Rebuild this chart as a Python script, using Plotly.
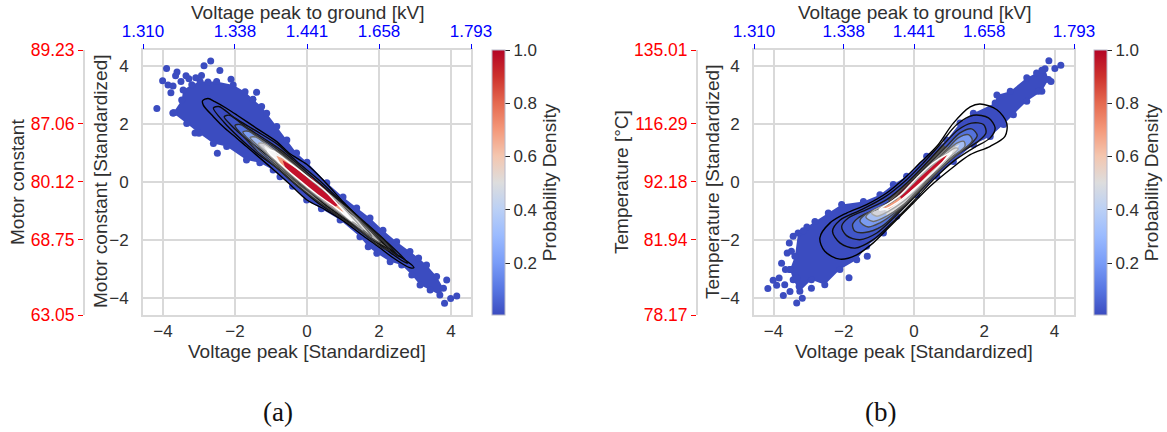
import plotly.graph_objects as go

W, H = 1167, 432
FONT = "Liberation Sans"
TXT = "#303030"
GRID = "#d9d9d9"
BLUE0 = "#3b4cc0"

COOLWARM = [[0, "#3b4cc0"], [0.1, "#5877e3"], [0.2, "#7a9df8"], [0.3, "#9bbbff"], [0.4, "#bbd0f5"],
            [0.5, "#dddddd"], [0.6, "#f4c6af"], [0.7, "#f4987a"], [0.8, "#e56950"], [0.9, "#cd312e"], [1, "#b40426"]]
COLORBAR_TICKS = [0.2, 0.4, 0.6, 0.8, 1.0]
COLORBAR_LABELS = ["0.2", "0.4", "0.6", "0.8", "1.0"]
MAIN_TICKS = [-4, -2, 0, 2, 4]
MAIN_LABELS = ["\u22124", "\u22122", "0", "2", "4"]
TOP_POS = [-4.555, -2, 0, 2, 4.555]
TOP_LABELS = ["1.310", "1.338", "1.441", "1.658", "1.793"]
RED_POS = [-4.586, -2, 0, 2, 4.55]
A_RED_LABELS = ["63.05", "68.75", "80.12", "87.06", "89.23"]
B_RED_LABELS = ["78.17", "81.94", "92.18", "116.29", "135.01"]

# ---- panel (a) ----
A_BLOB_X = [-3.72,-3.48,-3.44,-3.2,-2.97,-2.75,-2.51,-2.05,-1.72,-1.5,-1.26,-1.12,-0.84,-0.56,-0.29,0.0,0.55,1.0,1.38,1.75,2.11,2.49,2.86,3.1,3.32,3.6,3.79,3.69,3.42,3.14,2.91,2.63,2.31,1.94,1.7,1.47,0.92,0.4,-0.01,-0.4,-0.75,-0.94,-1.31,-1.68,-2.23,-2.6,-3.0,-3.34]
A_BLOB_Y = [2.38,2.83,3.17,3.35,3.46,3.45,3.46,3.34,3.11,2.85,2.6,2.37,1.91,1.45,1.0,0.68,-0.03,-0.52,-0.9,-1.24,-1.66,-2.06,-2.4,-2.62,-2.86,-3.26,-3.66,-3.9,-3.72,-3.55,-3.21,-2.86,-2.75,-2.46,-2.23,-1.89,-1.31,-0.92,-0.62,-0.15,0.18,0.41,0.66,0.76,1.22,1.33,1.68,2.02]
A_OUT_X = [-2.675,-2.86,-2.42,-3.90,-3.61,-4.01,-3.65,-3.86,-3.72,-3.5,-3.36,-3.28,-3.09,-2.93,-2.11,-1.40,-3.78,-4.17,-3.69,-2.49,-3.11,3.88,4.16,3.99,3.82]
A_OUT_Y = [4.17,4.01,3.84,3.91,3.79,3.49,3.66,3.34,3.31,3.46,3.66,3.56,3.59,3.67,3.54,3.09,3.08,2.53,2.39,0.99,1.69,-3.38,-3.93,-4.02,-4.18]
A_C1_X = [-2.9,-2.75,-2.56,-2.25,-1.95,-1.4,-0.84,-0.5,0,0.5,1,1.5,2,2.5,2.85,2.97,2.85,2.4,2,1.5,1,0.5,0,-0.5,-1,-1.68,-1.95,-2.28,-2.6,-2.88]
A_C1_Y = [2.8,2.88,2.77,2.55,2.31,1.85,1.39,1.0,0.6,0.0,-0.68,-1.3,-1.98,-2.5,-2.8,-2.95,-2.95,-2.62,-2.25,-1.8,-1.33,-0.95,-0.62,-0.05,0.5,1.22,1.51,1.85,2.25,2.65]
A_C2_X = [-2.6,-2.45,-2.0,-1.4,-0.8,-0.3,0.3,1,1.6,2.2,2.6,2.8,2.65,2.2,1.6,1,0.3,-0.3,-0.8,-1.4,-1.9,-2.3]
A_C2_Y = [2.55,2.6,2.2,1.75,1.28,0.72,0.1,-0.72,-1.38,-2.05,-2.52,-2.8,-2.72,-2.33,-1.78,-1.27,-0.72,-0.1,0.45,1.0,1.55,2.05]
A_C3_X = [-2.3,-2.15,-1.7,-1.2,-0.7,-0.2,0.4,1,1.6,2.1,2.55,2.3,1.8,1.2,0.5,-0.2,-0.7,-1.2,-1.7,-2.1]
A_C3_Y = [2.25,2.3,1.9,1.5,1.08,0.55,-0.1,-0.77,-1.42,-1.95,-2.58,-2.35,-1.97,-1.4,-0.78,-0.05,0.5,1.02,1.5,1.95]
A_C4_X = [-2.0,-1.85,-1.4,-0.9,-0.4,0.2,0.8,1.4,1.9,2.3,2.0,1.5,0.9,0.2,-0.4,-0.9,-1.4,-1.75]
A_C4_Y = [1.95,1.98,1.6,1.2,0.68,0.02,-0.62,-1.27,-1.8,-2.35,-2.2,-1.72,-1.2,-0.58,0,0.55,1.08,1.55]
A_C5_X = [-1.78,-1.62,-1.2,-0.7,-0.2,0.4,1,1.5,2.05,1.75,1.2,0.5,-0.2,-0.7,-1.2,-1.55]
A_C5_Y = [1.72,1.75,1.38,0.95,0.42,-0.2,-0.82,-1.35,-2.1,-1.9,-1.35,-0.72,-0.1,0.42,0.95,1.38]
A_C6_X = [-1.58,-1.42,-1,-0.5,0,0.6,1.2,1.8,1.4,0.8,0.2,-0.4,-0.9,-1.3]
A_C6_Y = [1.53,1.55,1.18,0.72,0.2,-0.42,-1.02,-1.88,-1.5,-0.98,-0.42,0.18,0.72,1.18]
A_C7_X = [-1.35,-1.2,-0.8,-0.3,0.2,0.8,1.55,1.1,0.5,-0.1,-0.6,-1.05]
A_C7_Y = [1.32,1.33,0.97,0.5,-0.02,-0.62,-1.65,-1.22,-0.68,-0.08,0.45,0.95]
A_C8_X = [-1.1,-0.95,-0.55,0,0.5,1.25,0.9,0.3,-0.3,-0.8]
A_C8_Y = [1.08,1.08,0.72,0.2,-0.3,-1.35,-0.98,-0.45,0.15,0.7]
A_NECK1_X = [-0.75,-0.2,0.4,1,1.6,2.1,2.55,2.3,1.8,1.2,0.5,-0.2,-0.9]
A_NECK1_Y = [1.12,0.55,-0.1,-0.77,-1.42,-1.95,-2.58,-2.35,-1.97,-1.4,-0.78,-0.05,0.7]
A_NECK2_X = [-0.85,-0.4,0.2,0.8,1.4,1.9,2.3,2.0,1.5,0.9,0.2,-0.4,-0.95]
A_NECK2_Y = [1.13,0.68,0.02,-0.62,-1.27,-1.8,-2.35,-2.2,-1.72,-1.2,-0.58,0,0.62]
A_NECK3_X = [-0.95,-0.7,-0.2,0.4,1,1.5,2.05,1.75,1.2,0.5,-0.2,-0.7,-1.05]
A_NECK3_Y = [1.13,0.95,0.42,-0.2,-0.82,-1.35,-2.1,-1.9,-1.35,-0.72,-0.1,0.42,0.82]
A_NECK4_X = [-1.15,-1,-0.5,0,0.6,1.2,1.8,1.4,0.8,0.2,-0.4,-0.9,-1.2]
A_NECK4_Y = [1.28,1.18,0.72,0.2,-0.42,-1.02,-1.88,-1.5,-0.98,-0.42,0.18,0.72,1.05]
A_NECK5_X = [-1.2,-0.8,-0.3,0.2,0.8,1.55,1.1,0.5,-0.1,-0.6,-1.05]
A_NECK5_Y = [1.25,0.97,0.5,-0.02,-0.62,-1.65,-1.22,-0.68,-0.08,0.45,0.95]
A_SALMON_X = [-0.85,-0.5,0,0.5,1.05,0.6,0.1,-0.4,-0.7]
A_SALMON_Y = [0.9,0.72,0.25,-0.25,-1.05,-0.82,-0.4,0.15,0.55]
A_RED_X = [-0.68,-0.39,-0.1,0.17,0.55,0.92,0.72,0.4,0.08,-0.2,-0.39,-0.61]
A_RED_Y = [0.75,0.55,0.33,0.12,-0.3,-0.75,-0.9,-0.58,-0.25,-0.02,0.15,0.52]

# ---- panel (b) ----
B_BLOB_X = [-3.53,-3.39,-3.3,-3.05,-2.82,-2.44,-2.06,-1.44,-0.97,-0.59,-0.21,0.36,0.93,1.31,1.69,2.31,2.36,2.74,3.21,3.49,3.73,3.83,3.64,3.21,2.83,2.55,2.17,1.69,1.12,0.65,0.08,-0.49,-0.87,-1.35,-1.63,-2.11,-2.54,-2.92,-3.25,-3.44]
B_BLOB_Y = [-3.02,-2.56,-1.76,-1.55,-1.36,-1.07,-0.78,-0.67,-0.44,-0.09,0.2,0.89,1.45,2.03,2.37,2.72,3.0,3.13,3.59,3.76,3.9,3.53,3.13,2.78,2.32,1.98,1.57,1.29,0.71,0.2,-0.44,-1.18,-1.76,-2.22,-2.68,-3.02,-3.54,-3.37,-3.77,-3.37]
B_OUT_X = [-4.16,-3.72,-3.34,-3.18,-3.53,-4.01,-3.84,-3.77,-3.66,-3.91,-3.68,-1.85,-1.33,-3.55,-3.44,-3.15,-3.61,-3.49,-3.27,-2.92,-3.34,3.84,4.18,4.01,3.9,3.73,3.64,3.54]
B_OUT_Y = [-3.67,-3.91,-4.17,-4.01,-3.78,-3.39,-3.31,-2.8,-3.02,-3.56,-3.54,-3.3,-2.56,-2.1,-1.87,-1.68,-2.45,-2.39,-3.6,-3.66,-3.31,4.18,4.02,3.91,3.46,3.55,3.85,3.13]
B_C1_X = [-2.68,-2.39,-1.92,-1.35,-0.78,-0.21,0.17,0.65,1.12,1.6,1.88,2.36,2.64,2.59,2.17,1.6,1.03,0.46,-0.11,-0.68,-1.16,-1.63,-2.11,-2.54]
B_C1_Y = [-1.93,-1.41,-1.07,-0.78,-0.38,0.2,0.66,1.23,2.03,2.59,2.69,2.49,2.03,1.57,1.23,0.94,0.43,-0.15,-0.84,-1.53,-2.1,-2.51,-2.66,-2.39]
B_C2_X = [-2.32,-2.11,-1.54,-0.87,-0.21,0.27,0.74,1.22,1.69,2.12,2.31,2.17,1.69,1.12,0.55,-0.02,-0.59,-1.16,-1.68,-2.11]
B_C2_Y = [-1.7,-1.32,-0.98,-0.55,0.08,0.66,1.29,1.98,2.3,2.21,1.86,1.52,1.17,0.71,0.08,-0.67,-1.36,-1.99,-2.28,-2.1]
B_C3_X = [-2.06,-1.87,-1.35,-0.78,-0.16,0.36,0.84,1.26,1.64,1.98,2.05,1.83,1.22,0.65,0.08,-0.49,-1.06,-1.54,-1.92]
B_C3_Y = [-1.53,-1.24,-0.95,-0.61,0.02,0.66,1.29,1.8,2.03,1.98,1.69,1.4,0.94,0.31,-0.44,-1.13,-1.76,-1.99,-1.85]
B_C4_X = [-1.75,-1.59,-1.16,-0.68,-0.11,0.41,0.93,1.31,1.64,1.8,1.6,1.12,0.65,0.12,-0.4,-0.92,-1.4,-1.68]
B_C4_Y = [-1.47,-1.24,-0.98,-0.67,-0.03,0.6,1.23,1.69,1.83,1.6,1.29,0.89,0.37,-0.26,-0.95,-1.53,-1.74,-1.7]
B_C5_X = [-1.54,-1.4,-0.97,-0.54,-0.02,0.46,0.93,1.26,1.55,1.66,1.41,0.98,0.5,0.03,-0.49,-0.97,-1.3]
B_C5_Y = [-1.36,-1.13,-0.9,-0.61,-0.03,0.54,1.11,1.52,1.63,1.44,1.11,0.71,0.14,-0.44,-1.01,-1.41,-1.55]
B_C6_X = [-1.37,-1.21,-0.83,-0.45,0.03,0.5,0.93,1.22,1.42,1.45,1.12,0.65,0.17,-0.3,-0.78,-1.16]
B_C6_Y = [-1.21,-1.01,-0.82,-0.53,0.02,0.6,1.06,1.34,1.4,1.23,0.89,0.37,-0.21,-0.78,-1.18,-1.36]
B_C7_X = [-1.21,-1.02,-0.68,-0.3,0.08,0.5,0.88,1.17,1.26,0.98,0.55,0.17,-0.3,-0.73,-1.06]
B_C7_Y = [-1.07,-0.9,-0.72,-0.38,0.08,0.54,0.94,1.17,1.14,0.83,0.37,-0.15,-0.67,-1.01,-1.18]
B_C8_X = [-0.99,-0.78,-0.4,0.08,0.55,0.93,1.07,0.84,0.41,-0.02,-0.49,-0.87]
B_C8_Y = [-0.95,-0.78,-0.46,0.14,0.66,0.94,1.0,0.71,0.2,-0.26,-0.72,-0.95]
B_NECK1_X = [-0.75,-0.16,0.36,0.84,1.1,0.65,0.08,-0.49]
B_NECK1_Y = [-0.6,0.02,0.66,1.29,0.85,0.31,-0.44,-1.13]
B_NECK2_X = [-0.7,-0.11,0.41,0.93,1.15,0.65,0.12,-0.4]
B_NECK2_Y = [-0.67,-0.03,0.6,1.23,0.95,0.37,-0.26,-0.95]
B_NECK3_X = [-0.7,-0.02,0.46,0.93,1.2,0.98,0.5,0.03,-0.49]
B_NECK3_Y = [-0.72,-0.03,0.54,1.11,1.3,0.71,0.14,-0.44,-1.01]
B_NECK4_X = [-0.8,0.03,0.5,0.93,1.3,1.12,0.65,0.17,-0.3,-0.78]
B_NECK4_Y = [-0.8,0.02,0.6,1.06,1.3,0.89,0.37,-0.21,-0.78,-1.18]
B_NECK5_X = [-1.0,-0.68,-0.3,0.08,0.5,0.88,1.17,0.98,0.55,0.17,-0.3,-0.73]
B_NECK5_Y = [-0.9,-0.72,-0.38,0.08,0.54,0.94,1.17,0.83,0.37,-0.15,-0.67,-1.01]
B_SALMON_X = [-0.9,-0.5,-0.1,0.4,0.75,0.98,0.8,0.45,0.05,-0.35,-0.7]
B_SALMON_Y = [-0.88,-0.45,-0.02,0.5,0.8,0.98,0.68,0.3,-0.2,-0.62,-0.92]
B_RED_X = [-0.45,-0.2,0.1,0.4,0.7,0.95,0.8,0.5,0.2,-0.1,-0.35]
B_RED_Y = [-0.4,-0.1,0.2,0.48,0.72,0.95,0.7,0.38,0.02,-0.3,-0.6]

LINE_COLORS = ["#000000", "#0a0a0a", "#151515", "#2a2a2a", "#4a4a4a", "#6e6e6e", "#a8a8a8", "#ffffff"]
FILLS = [None, None, "#4156c8", "#5472dc", "#7a9bf0", "#a4bdf2", "#d4d4da", "#ece4de"]
NECK_FILLS = ["#505050", "#858585", "#b5b5b5", "#e0e0e0", "#f6f6f6"]

fig = go.Figure()


def closed(v):
    return list(v) + [v[0]]


def poly(xa, ya, cx, cy, col, spline=True):
    line = dict(width=0, color=col)
    if spline:
        line.update(shape="spline", smoothing=0.9)
    fig.add_trace(go.Scatter(x=closed(cx), y=closed(cy), xaxis=xa, yaxis=ya, mode="lines", fill="toself",
                             fillcolor=col, line=line, hoverinfo="skip", showlegend=False))


def panel(xa, ya, blob_x, blob_y, out_x, out_y, contours, necks, salmon, red, cbx):
    fig.add_trace(go.Scatter(x=[0, 0], y=[0, 0], xaxis=xa, yaxis=ya, mode="markers", hoverinfo="skip",
                             showlegend=False,
                             marker=dict(size=1, color=[0.005, 1.0], colorscale=COOLWARM, cmin=0.005, cmax=1.0,
                                         colorbar=dict(x=cbx / W, xanchor="left", xpad=0, ypad=0,
                                                       y=1 - 315 / H, yanchor="bottom", lenmode="fraction",
                                                       len=265 / H, thickness=13, outlinecolor="#b8b8c8",
                                                       outlinewidth=1, tickvals=COLORBAR_TICKS,
                                                       ticktext=COLORBAR_LABELS, ticks="outside", ticklen=5,
                                                       tickcolor="#262626", tickwidth=1,
                                                       tickfont=dict(family=FONT, size=17, color=TXT),
                                                       title=dict(text="Probability Density", side="right",
                                                                  font=dict(family=FONT, size=19, color=TXT))))))
    fig.add_trace(go.Scatter(x=closed(blob_x), y=closed(blob_y), xaxis=xa, yaxis=ya, mode="lines+markers",
                             fill="toself", fillcolor=BLUE0, line=dict(width=0, color=BLUE0),
                             marker=dict(size=7, color=BLUE0), hoverinfo="skip", showlegend=False))
    fig.add_trace(go.Scatter(x=out_x, y=out_y, xaxis=xa, yaxis=ya, mode="markers",
                             marker=dict(size=7, color=BLUE0), hoverinfo="skip", showlegend=False))
    for i, (cx, cy) in enumerate(contours):
        if FILLS[i]:
            poly(xa, ya, cx, cy, FILLS[i])
    for i, (cx, cy) in enumerate(necks):
        poly(xa, ya, cx, cy, NECK_FILLS[i], spline=False)
    poly(xa, ya, salmon[0], salmon[1], "#f29c7c", spline=False)
    poly(xa, ya, red[0], red[1], "#c4112c", spline=False)
    for i, (cx, cy) in enumerate(contours):
        fig.add_trace(go.Scatter(x=closed(cx), y=closed(cy), xaxis=xa, yaxis=ya, mode="lines",
                                 line=dict(width=1.4, color=LINE_COLORS[i], shape="spline", smoothing=0.9),
                                 hoverinfo="skip", showlegend=False))


A_CONTOURS = [(A_C1_X, A_C1_Y), (A_C2_X, A_C2_Y), (A_C3_X, A_C3_Y), (A_C4_X, A_C4_Y),
              (A_C5_X, A_C5_Y), (A_C6_X, A_C6_Y), (A_C7_X, A_C7_Y), (A_C8_X, A_C8_Y)]
B_CONTOURS = [(B_C1_X, B_C1_Y), (B_C2_X, B_C2_Y), (B_C3_X, B_C3_Y), (B_C4_X, B_C4_Y),
              (B_C5_X, B_C5_Y), (B_C6_X, B_C6_Y), (B_C7_X, B_C7_Y), (B_C8_X, B_C8_Y)]
A_NECKS = [(A_NECK1_X, A_NECK1_Y), (A_NECK2_X, A_NECK2_Y), (A_NECK3_X, A_NECK3_Y), (A_NECK4_X, A_NECK4_Y), (A_NECK5_X, A_NECK5_Y)]
B_NECKS = [(B_NECK1_X, B_NECK1_Y), (B_NECK2_X, B_NECK2_Y), (B_NECK3_X, B_NECK3_Y), (B_NECK4_X, B_NECK4_Y), (B_NECK5_X, B_NECK5_Y)]
panel("x", "y", A_BLOB_X, A_BLOB_Y, A_OUT_X, A_OUT_Y, A_CONTOURS, A_NECKS, (A_SALMON_X, A_SALMON_Y), (A_RED_X, A_RED_Y), 492)
panel("x3", "y3", B_BLOB_X, B_BLOB_Y, B_OUT_X, B_OUT_Y, B_CONTOURS, B_NECKS, (B_SALMON_X, B_SALMON_Y), (B_RED_X, B_RED_Y), 1094)

for xa, ya in (("x2", "y2"), ("x4", "y4")):
    fig.add_trace(go.Scatter(x=[None], y=[None], xaxis=xa, yaxis=ya, mode="markers", showlegend=False, hoverinfo="skip"))

XR = [-4.555, 4.555]
YR = [-4.586, 4.55]
TITLE_FONT = dict(family=FONT, size=19, color=TXT)
notes = []


def note(text, x, y, angle=0, font=None):
    notes.append(dict(text=text, x=x / W, y=1 - y / H, xref="paper", yref="paper", showarrow=False, textangle=angle,
                      xanchor="center", yanchor="middle", font=font or TITLE_FONT))


def axes(n, sec, left, right, red_x, red_labels, red_title, std_title, red_title_x, std_title_x):
    xdom = [left / W, right / W]
    ydom = [1 - 315 / H, 1 - 50 / H]
    s = "" if n == 1 else str(n)
    tf = dict(family=FONT, size=17, color=TXT)
    fig.layout["xaxis" + s] = dict(
        domain=xdom, range=XR, anchor="y" + s, tickvals=MAIN_TICKS, ticktext=MAIN_LABELS, tickfont=tf,
        showgrid=True, gridcolor=GRID, gridwidth=1.5, zeroline=False, showline=True, mirror=True,
        linecolor=GRID, linewidth=2, ticks="", automargin=False)
    fig.layout["yaxis" + s] = dict(
        domain=ydom, range=YR, anchor="x" + s, tickvals=MAIN_TICKS, ticktext=MAIN_LABELS, tickfont=tf,
        showgrid=True, gridcolor=GRID, gridwidth=1.5, zeroline=False, showline=True, mirror=True,
        linecolor=GRID, linewidth=2, ticks="outside", ticklen=9, tickcolor="rgba(0,0,0,0)", automargin=False)
    fig.layout["xaxis" + str(sec)] = dict(
        domain=xdom, range=XR, anchor="y" + str(sec), overlaying="x" + s, side="top", tickvals=TOP_POS,
        ticktext=TOP_LABELS, tickfont=dict(family=FONT, size=17, color="#0000ff"), ticks="outside", ticklen=5,
        tickcolor="#0000ff", tickwidth=1, showgrid=False, zeroline=False, showline=False, automargin=False)
    fig.layout["yaxis" + str(sec)] = dict(
        domain=ydom, range=YR, anchor="free", position=red_x / W, overlaying="y" + s, side="left", tickvals=RED_POS,
        ticktext=red_labels, tickfont=dict(family=FONT, size=17.5, color="#ff0000"), ticks="outside", ticklen=5,
        tickcolor="#ff0000", tickwidth=1, showgrid=False, zeroline=False, showline=True, linecolor=GRID,
        linewidth=2, automargin=False)
    cx = (left + right) / 2
    note("Voltage peak [Standardized]", cx, 351)
    note("Voltage peak to ground [kV]", cx, 12)
    note(red_title, red_title_x, 182, -90)
    note(std_title, std_title_x, 182, -90)


axes(1, 2, 143, 471, 84, A_RED_LABELS, "Motor constant", "Motor constant [Standardized]", 17, 100)
axes(3, 4, 754, 1074, 697, B_RED_LABELS, "Temperature [\u00b0C]", "Temperature [Standardized]", 621, 712)
note("(a)", 278, 412, 0, dict(family="Liberation Serif", size=27, color="#111111"))
note("(b)", 880, 412, 0, dict(family="Liberation Serif", size=27, color="#111111"))

fig.update_layout(width=W, height=H, autosize=False, margin=dict(l=0, r=0, t=0, b=0, autoexpand=False),
                  paper_bgcolor="white", plot_bgcolor="white", showlegend=False, annotations=notes)

fig.write_html("out.html", config=dict(displayModeBar=False),
               post_script="document.body.style.margin='0';document.body.style.overflow='hidden';")
